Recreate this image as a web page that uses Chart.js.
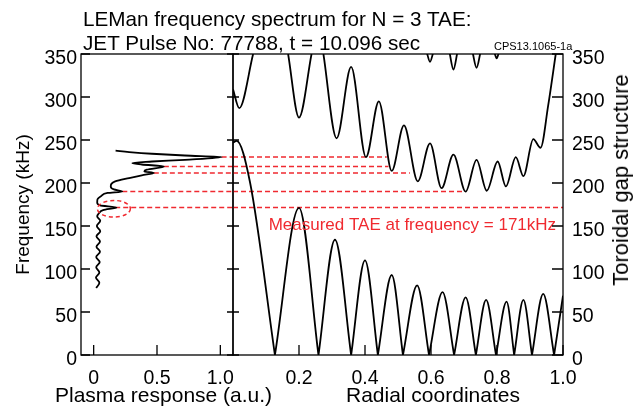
<!DOCTYPE html>
<html>
<head>
<meta charset="utf-8">
<script src="https://cdn.jsdelivr.net/npm/chart.js@4.4.1/dist/chart.umd.min.js"></script>
<style>
    html, body { margin: 0; padding: 0; background: #fff; }
    #wrap { position: relative; width: 633px; height: 407px; overflow: hidden;
            font-family: "Liberation Sans", Arial, sans-serif; color: #000; }
    #wrap canvas { position: absolute; left: 0; top: 0; }
    .txt { position: absolute; white-space: nowrap; }
    #title { left: 83px; top: 7px; font-size: 20.7px; line-height: 24px; }
    #ref { left: 494px; top: 40px; font-size: 11px; }
    #xTitleL { left: 55px; top: 383px; font-size: 21px; line-height: 24px; }
    #xTitleR { left: 346px; top: 383px; font-size: 21px; line-height: 24px; }
    #yTitleR { left: 621px; top: 180px; font-size: 22px; line-height: 24px;
               transform: translate(-50%, -50%) rotate(-90deg); }
</style>
</head>
<body>
<div id="wrap">
    <canvas id="respChart" width="633" height="407"></canvas>
    <canvas id="gapChart" width="633" height="407"></canvas>
    <div class="txt" id="title">LEMan frequency spectrum for N = 3 TAE:<br>JET Pulse No: 77788, t = 10.096 sec</div>
    <div class="txt" id="ref">CPS13.1065-1a</div>
    <div class="txt" id="xTitleL">Plasma response (a.u.)</div>
    <div class="txt" id="xTitleR">Radial coordinates</div>
    <div class="txt" id="yTitleR">Toroidal gap structure</div>
</div>
<script>
// --- left panel: plasma response (x) vs frequency (y), read bottom -> top
const respFreq = [78, 84, 90, 96, 102, 108, 114, 120, 126, 132, 138, 144, 150, 156, 161, 165,
                  168.5, 171.6, 174, 177, 181, 185, 188.4, 190.2, 192.5, 196, 199, 201.9, 205.8,
                  209, 211.6, 213.5, 215.5, 219.3, 221.5, 223.3, 225, 227, 230.2, 232, 234, 236, 237.6];
const respAmp  = [0.02, 0.045, 0.018, 0.045, 0.02, 0.048, 0.02, 0.05, 0.022, 0.05, 0.022, 0.052, 0.025, 0.052, 0.028, 0.042,
                  0.075, 0.18, 0.05, 0.028, 0.03, 0.06, 0.11, 0.226, 0.16, 0.135, 0.14, 0.17, 0.28,
                  0.38, 0.475, 0.4, 0.42, 0.554, 0.38, 0.305, 0.46, 0.72, 1.01, 0.72, 0.46, 0.28, 0.173];

// TAE frequencies (red dashed lines): start on the response peak, end in the gap plot
const taeFreq = [230.2, 219.3, 211.6, 190.2, 171.6];
const taeAmp  = [1.01, 0.554, 0.475, 0.226, 0.17];
const taeREnd = [0.466, 0.471, 0.536, 0.697, 1.0];

// measured TAE marker
const measAmp = 0.16, measFreq = 170, measAmpRadius = 0.13, measFreqRadius = 9.7;

// --- right panel: continuum branches (null = break in the line)
const lowR = [0.000, 0.011, 0.052, 0.127,
              0.127, 0.127, 0.200, 0.259,
              0.259, 0.259, 0.309, 0.358,
              0.358, 0.358, 0.400, 0.439,
              0.439, 0.439, 0.481, 0.515,
              0.515, 0.515, 0.558, 0.594,
              0.594, 0.594, 0.635, 0.670,
              0.670, 0.670, 0.705, 0.736,
              0.736, 0.736, 0.767, 0.797,
              0.797, 0.797, 0.829, 0.852,
              0.852, 0.852, 0.880, 0.906,
              0.906, 0.906, 0.940, 0.973,
              0.973, 0.973, 1.000];
const lowF = [247, 249, 200, 0,
              null, 0, 171, 0,
              null, 0, 134, 0,
              null, 0, 110, 0,
              null, 0, 93, 0,
              null, 0, 81, 0,
              null, 0, 73, 0,
              null, 0, 67, 0,
              null, 0, 64, 0,
              null, 0, 62, 0,
              null, 0, 64, 0,
              null, 0, 71, 0,
              null, 0, 69];

const midR = [0.000, 0.019, 0.061, 0.061, 0.167, 0.200, 0.238, 0.238,
              0.274, 0.314, 0.358, 0.403, 0.442, 0.481, 0.518, 0.560, 0.597, 0.632, 0.668,
              0.705, 0.738, 0.769, 0.802, 0.827, 0.857, 0.880, 0.910, 0.932, 0.955, 0.978];
const midF = [309, 287, 350, null, 350, 276, 350, null,
              350, 252, 335, 230, 295, 214, 267, 202, 246, 194, 233,
              190, 227, 191, 225, 196, 230, 208, 251, 241, 290, 350];

const topR = [0.587, 0.597, 0.607, 0.607, 0.656, 0.668, 0.680, 0.680,
              0.726, 0.738, 0.750, 0.750, 0.792, 0.799, 0.806];
const topF = [352, 341, 352, null, 352, 332, 352, null,
              352, 334, 352, null, 352, 345, 352];

// axis ticks
const freqTicks = [0, 50, 100, 150, 200, 250, 300, 350];
const respTicks = [0, 0.5, 1.0];
const respTickLabels = ['0', '0.5', '1.0'];
const radTicks = [0.2, 0.4, 0.6, 0.8, 1.0];
const radTickLabels = ['0.2', '0.4', '0.6', '0.8', '1.0'];

const RED = '#f02a30';
const FONT = '"Liberation Sans", Arial, sans-serif';

Chart.defaults.font.family = FONT;
Chart.defaults.color = '#000';

function pairs(xs, ys) {
    return xs.map((x, i) => ({ x: x, y: ys[i] }));
}

// frame around the plot area with inward tick marks
const frameTicks = {
    id: 'frameTicks',
    afterDatasetsDraw(chart, args, opts) {
        const { ctx, chartArea: a, scales } = chart;
        ctx.save();
        ctx.strokeStyle = '#000';
        ctx.lineWidth = 1.3;
        ctx.strokeRect(a.left, a.top, a.right - a.left, a.bottom - a.top);
        ctx.beginPath();
        scales.x.ticks.forEach(t => {
            const px = scales.x.getPixelForValue(t.value);
            ctx.moveTo(px, a.bottom);
            ctx.lineTo(px, a.bottom - opts.bottom);
        });
        scales.y.ticks.forEach(t => {
            const py = scales.y.getPixelForValue(t.value);
            ctx.moveTo(a.left, py);
            ctx.lineTo(a.left + opts.left, py);
            ctx.moveTo(a.right, py);
            ctx.lineTo(a.right - opts.right, py);
        });
        ctx.stroke();
        ctx.restore();
    }
};

// dashed ellipse round the measured TAE
const measMark = {
    id: 'measMark',
    afterDatasetsDraw(chart) {
        const { ctx, scales } = chart;
        const cx = scales.x.getPixelForValue(measAmp);
        const cy = scales.y.getPixelForValue(measFreq);
        const rx = Math.abs(scales.x.getPixelForValue(measAmp + measAmpRadius) - cx);
        const ry = Math.abs(scales.y.getPixelForValue(measFreq + measFreqRadius) - cy);
        ctx.save();
        ctx.strokeStyle = RED;
        ctx.lineWidth = 1.5;
        ctx.setLineDash([4, 3]);
        ctx.beginPath();
        ctx.ellipse(cx, cy, rx, ry, 0, 0, Math.PI * 2);
        ctx.stroke();
        ctx.restore();
    }
};

// red note in the gap plot
const measNote = {
    id: 'measNote',
    afterDatasetsDraw(chart) {
        const { ctx, scales } = chart;
        ctx.save();
        ctx.fillStyle = RED;
        ctx.font = '17px ' + FONT;
        ctx.textAlign = 'right';
        ctx.textBaseline = 'middle';
        ctx.fillText('Measured TAE at frequency = 171kHz',
            scales.x.getPixelForValue(0.979), scales.y.getPixelForValue(151));
        ctx.restore();
    }
};

function freqAxis(position, width, padding) {
    return {
        type: 'linear',
        position: position,
        min: 0,
        max: 350,
        afterBuildTicks: s => { s.ticks = freqTicks.map(v => ({ value: v })); },
        afterFit: s => { s.width = width; },
        grid: { display: false, drawTicks: false },
        border: { display: false },
        ticks: { font: { size: 19.5 }, color: '#000', padding: padding, labelOffset: 5 },
    };
}

function bottomAxis(min, max, tickVals, tickLabels) {
    return {
        type: 'linear',
        position: 'bottom',
        min: min,
        max: max,
        afterBuildTicks: s => { s.ticks = tickVals.map(v => ({ value: v })); },
        afterFit: s => { s.height = 52; },
        grid: { display: false, drawTicks: false },
        border: { display: false },
        ticks: {
            font: { size: 19.5 }, color: '#000', padding: 12,
            maxRotation: 0, autoSkip: false,
            callback: (v, i) => tickLabels[i],
        },
    };
}

function dashed(data) {
    return {
        data: data,
        borderColor: RED,
        borderWidth: 1.5,
        borderDash: [5, 3],
        pointRadius: 0,
        tension: 0,
    };
}

const common = {
    responsive: false,
    devicePixelRatio: 1,
    animation: false,
    events: [],
};

// left panel
const leftData = [{
    data: pairs(respAmp, respFreq),
    borderColor: '#000',
    borderWidth: 1.8,
    pointRadius: 0,
    cubicInterpolationMode: 'monotone',
}];
taeFreq.forEach((f, i) => {
    leftData.push(dashed([{ x: taeAmp[i], y: f }, { x: 1.1, y: f }]));
});

const leftY = freqAxis('left', 81, 4);
leftY.title = { display: true, text: 'Frequency (kHz)', font: { size: 19 }, color: '#000', padding: { top: 12 } };

new Chart(document.getElementById('respChart'), {
    type: 'line',
    data: { datasets: leftData },
    options: Object.assign({}, common, {
        indexAxis: 'y',
        layout: { padding: { left: 0, right: 400, top: 54, bottom: 0 } },
        scales: {
            x: bottomAxis(-0.1, 1.1, respTicks, respTickLabels),
            y: leftY,
        },
        plugins: {
            legend: { display: false },
            tooltip: { enabled: false },
            frameTicks: { left: 9, right: 6, bottom: 10 },
        },
    }),
    plugins: [measMark, frameTicks],
});

// right panel
const branch = (r, f) => ({
    data: pairs(r, f),
    borderColor: '#000',
    borderWidth: 1.8,
    pointRadius: 0,
    cubicInterpolationMode: 'monotone',
    spanGaps: false,
    clip: 0,
});
const rightData = [branch(lowR, lowF), branch(midR, midF), branch(topR, topF)];
taeFreq.forEach((f, i) => {
    rightData.push(dashed([{ x: 0, y: f }, { x: taeREnd[i], y: f }]));
});

new Chart(document.getElementById('gapChart'), {
    type: 'line',
    data: { datasets: rightData },
    options: Object.assign({}, common, {
        layout: { padding: { left: 233, right: 0, top: 54, bottom: 0 } },
        scales: {
            x: bottomAxis(0, 1, radTicks, radTickLabels),
            y: freqAxis('right', 70, 9),
        },
        plugins: {
            legend: { display: false },
            tooltip: { enabled: false },
            frameTicks: { left: 6, right: 11, bottom: 10 },
        },
    }),
    plugins: [measNote, frameTicks],
});
</script>
</body>
</html>
